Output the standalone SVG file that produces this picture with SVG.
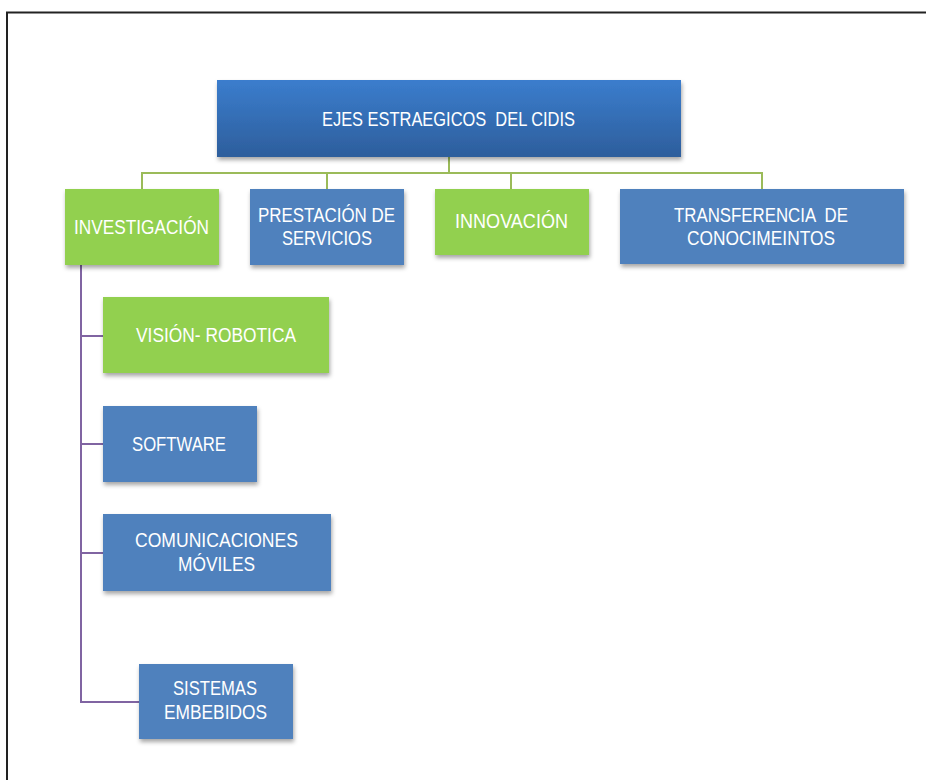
<svg xmlns="http://www.w3.org/2000/svg" width="926" height="780" viewBox="0 0 926 780">
<defs>
<linearGradient id="topGrad" x1="0" y1="0" x2="0" y2="1">
<stop offset="0" stop-color="#3b7dcd"/>
<stop offset="1" stop-color="#2d5e9c"/>
</linearGradient>
<filter id="sh" x="-10%" y="-10%" width="125%" height="135%">
<feDropShadow dx="1" dy="3" stdDeviation="2" flood-color="#000" flood-opacity="0.35"/>
</filter>
</defs>
<style>
.box{filter:url(#sh);}
.blue{fill:#4f81bd;}
.green{fill:#92d050;}
.t{font-family:"Liberation Sans",Arial,sans-serif;font-size:20px;fill:#ffffff;white-space:pre;}
.gl{stroke:#9bbb59;stroke-width:2;fill:none;}
.pl{stroke:#8064a2;stroke-width:2;fill:none;}
</style>
<rect width="926" height="780" fill="#ffffff"/>
<g id="frame">
<line x1="6" y1="12.5" x2="926" y2="12.5" stroke="#222" stroke-width="2"/>
<line x1="7" y1="12" x2="7" y2="780" stroke="#222" stroke-width="2"/>
</g>
<g id="connectors">
<path class="gl" d="M449 157 V173 M142 189 V173 H762 V189 M327 173 V189 M511 173 V189"/>
<path class="pl" d="M81 265 V702 H139 M81 336 H103 M81 444 H103 M81 553 H103"/>
</g>
<g id="root">
<rect class="box" x="217" y="80" width="464" height="77" fill="url(#topGrad)"/>
<text class="t" x="322" y="126" textLength="253" lengthAdjust="spacingAndGlyphs">EJES ESTRAEGICOS  DEL CIDIS</text>
</g>
<g id="investigacion">
<rect class="box green" x="65" y="189" width="154" height="76"/>
<text class="t" x="74" y="234" textLength="135" lengthAdjust="spacingAndGlyphs">INVESTIGACIÓN</text>
</g>
<g id="prestacion">
<rect class="box blue" x="250" y="189" width="154" height="76"/>
<text class="t" x="258" y="222" textLength="137" lengthAdjust="spacingAndGlyphs">PRESTACIÓN DE</text>
<text class="t" x="282" y="245" textLength="90" lengthAdjust="spacingAndGlyphs">SERVICIOS</text>
</g>
<g id="innovacion">
<rect class="box green" x="435" y="189" width="154" height="66"/>
<text class="t" x="455" y="228" textLength="113" lengthAdjust="spacingAndGlyphs">INNOVACIÓN</text>
</g>
<g id="transferencia">
<rect class="box blue" x="620" y="189" width="284" height="75"/>
<text class="t" x="674" y="222" textLength="174" lengthAdjust="spacingAndGlyphs">TRANSFERENCIA  DE</text>
<text class="t" x="687" y="245" textLength="148" lengthAdjust="spacingAndGlyphs">CONOCIMEINTOS</text>
</g>
<g id="vision">
<rect class="box green" x="103" y="297" width="226" height="76"/>
<text class="t" x="136" y="342" textLength="160" lengthAdjust="spacingAndGlyphs">VISIÓN- ROBOTICA</text>
</g>
<g id="software">
<rect class="box blue" x="103" y="406" width="154" height="76"/>
<text class="t" x="132" y="451" textLength="94" lengthAdjust="spacingAndGlyphs">SOFTWARE</text>
</g>
<g id="comunicaciones">
<rect class="box blue" x="103" y="514" width="228" height="77"/>
<text class="t" x="135" y="547" textLength="163" lengthAdjust="spacingAndGlyphs">COMUNICACIONES</text>
<text class="t" x="178" y="571" textLength="77" lengthAdjust="spacingAndGlyphs">MÓVILES</text>
</g>
<g id="sistemas">
<rect class="box blue" x="139" y="664" width="154" height="75"/>
<text class="t" x="173" y="695" textLength="84" lengthAdjust="spacingAndGlyphs">SISTEMAS</text>
<text class="t" x="164" y="719" textLength="103" lengthAdjust="spacingAndGlyphs">EMBEBIDOS</text>
</g>
</svg>
